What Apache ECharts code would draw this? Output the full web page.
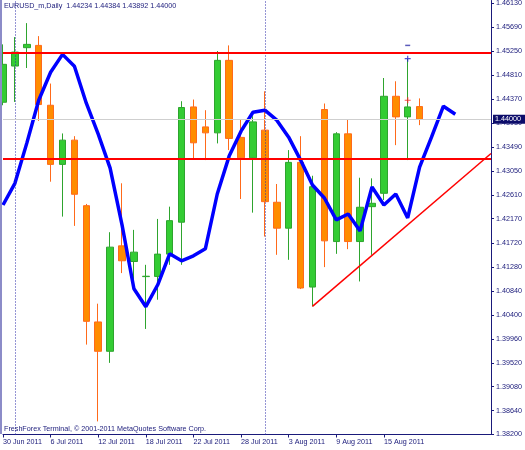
<!DOCTYPE html>
<html><head><meta charset="utf-8">
<script src="https://cdn.jsdelivr.net/npm/echarts@6/dist/echarts.min.js"></script>
<style>html,body{margin:0;padding:0;background:#fff}#c{width:525px;height:450px}</style>
</head><body><div id="c"></div>
<script>
const categories = ['30 Jun 2011','1 Jul 2011','4 Jul 2011','5 Jul 2011','6 Jul 2011','7 Jul 2011','8 Jul 2011','11 Jul 2011',
  '12 Jul 2011','13 Jul 2011','14 Jul 2011','15 Jul 2011','18 Jul 2011','19 Jul 2011','20 Jul 2011','21 Jul 2011',
  '22 Jul 2011','25 Jul 2011','26 Jul 2011','27 Jul 2011','28 Jul 2011','29 Jul 2011','1 Aug 2011','2 Aug 2011',
  '3 Aug 2011','4 Aug 2011','5 Aug 2011','8 Aug 2011','9 Aug 2011','10 Aug 2011','11 Aug 2011','12 Aug 2011',
  '15 Aug 2011','16 Aug 2011','17 Aug 2011','18 Aug 2011','19 Aug 2011','22 Aug 2011','23 Aug 2011','24 Aug 2011',
  '25 Aug 2011','26 Aug 2011'];
const opens  = [1.44313,1.44979,1.45317,1.45359,1.44258,1.43170,1.43616,1.42410,1.40271,1.39731,1.41671,1.41383,
  1.41105,1.41108,1.41519,1.42106,1.44227,1.43860,1.43750,1.45084,1.43666,1.43291,1.43800,1.42473,
  1.41996,1.43207,1.40913,1.44179,1.41750,1.43732,1.41750,1.42392,1.42638,1.44423,1.44044,1.44234];
const highs  = [1.45378,1.45512,1.45769,1.45530,1.44657,1.43739,1.43689,1.42442,1.40607,1.41922,1.42822,1.41965,
  1.41322,1.42166,1.42392,1.44332,1.44363,1.44167,1.45255,1.45359,1.43996,1.44056,1.44515,1.42809,
  1.43433,1.43689,1.42961,1.44290,1.43763,1.43996,1.42924,1.42913,1.44759,1.44699,1.45115,1.44384];
const lows   = [1.44258,1.44319,1.44943,1.43970,1.42851,1.42209,1.42038,1.39854,1.38441,1.39518,1.41170,1.41047,
  1.40142,1.40680,1.41322,1.41322,1.43262,1.43249,1.43556,1.43433,1.42533,1.42282,1.41842,1.41506,
  1.41414,1.40876,1.40557,1.41280,1.41524,1.41610,1.41016,1.41506,1.42515,1.43524,1.43249,1.43892];
const closes = [1.45011,1.45236,1.45378,1.44271,1.43170,1.43616,1.42620,1.40282,1.39731,1.41647,1.41396,1.41555,
  1.41112,1.41519,1.42135,1.44216,1.43567,1.43750,1.45084,1.43647,1.43291,1.43952,1.42484,1.41996,
  1.43207,1.40895,1.42759,1.41763,1.43732,1.41750,1.42381,1.42454,1.44423,1.44044,1.44227,1.44000];
const indicator = [1.42423,1.42822,1.43561,1.44350,1.44864,1.45194,1.44974,1.44295,1.43726,1.43102,1.42056,1.40882,
  1.40552,1.40955,1.41524,1.41396,1.41487,1.41616,1.42625,1.43322,1.43781,1.44130,1.44167,1.43983,
  1.43671,1.43249,1.42790,1.42552,1.42148,1.42258,1.41946,1.42754,1.42423,1.42625,1.42185,1.43121,
  1.43671,1.44240,1.44093];
const levelLines = [1.45218, 1.43273];
const trendX = [26, 41];
const trendY = [1.40557, 1.43370];
const bidPrice = 1.44000;
const separatorDates = ['1 Jul 2011', '1 Aug 2011'];
const yTickLabels = ['1.38200','1.38640','1.39080','1.39520','1.39960','1.40400','1.40840','1.41280','1.41720',
  '1.42170','1.42610','1.43050','1.43490','1.43930','1.44370','1.44810','1.45250','1.45690','1.46130'];
const orderMarkIndex = [34, 34, 34];
const orderMarkPrice = [1.45359, 1.45115, 1.44350];

const NAVY = '#1a1a7a';
const FONT = 'Liberation Sans';
const FS = 7.2;
const last = opens.length - 1;
const title = 'EURUSD_m,Daily  ' + [opens[last], highs[last], lows[last], closes[last]].map(v => v.toFixed(5)).join(' ');

const candleData = opens.map((o, i) => [o, closes[i], lows[i], highs[i]]);
const markStyles = [
  {symbol: 'rect', symbolSize: [5, 1.5], color: '#3333aa'},
  {symbol: 'path://M2,0H3V2H5V3H3V5H2V3H0V2H2Z', symbolSize: 6, color: '#2222cc'},
  {symbol: 'path://M2,0H3V2H5V3H3V5H2V3H0V2H2Z', symbolSize: 6, color: '#ff2020'}
];
const markData = orderMarkIndex.map((x, i) => ({
  value: [x, orderMarkPrice[i]], symbol: markStyles[i].symbol, symbolSize: markStyles[i].symbolSize,
  itemStyle: {color: markStyles[i].color}
}));

const chart = echarts.init(document.getElementById('c'), null, {renderer: 'canvas'});
chart.setOption({
  animation: false,
  backgroundColor: '#ffffff',
  grid: {left: 2.7, right: 30.3, top: 0, bottom: 15.5},
  xAxis: {
    type: 'category', data: categories, boundaryGap: false,
    axisLine: {show: true, lineStyle: {color: NAVY, width: 1}},
    axisTick: {show: true, length: 3, lineStyle: {color: NAVY},
      interval: (i) => i % 4 === 0 && i <= 32},
    axisLabel: {show: true, color: NAVY, fontFamily: FONT, fontSize: FS, align: 'left', margin: 4,
      hideOverlap: false, interval: (i) => i % 4 === 0 && i <= 32},
    splitLine: {show: false}
  },
  yAxis: {
    type: 'value', position: 'right', min: 1.382, max: 1.46185, scale: true,
    axisLine: {show: true, lineStyle: {color: NAVY, width: 1}},
    axisTick: {show: true, length: 3, lineStyle: {color: NAVY}, customValues: yTickLabels.map(Number)},
    axisLabel: {show: true, color: NAVY, fontFamily: FONT, fontSize: FS, margin: 5, align: 'left',
      customValues: yTickLabels.map(Number), formatter: (v) => v.toFixed(5)},
    splitLine: {show: false}
  },
  series: [
    {
      type: 'candlestick', data: candleData, barWidth: 7, clip: true,
      itemStyle: {color: '#33cc33', color0: '#ff8c00', borderColor: '#2ea42e', borderColor0: '#ff6a1a', borderWidth: 1},
      markLine: {
        silent: true, symbol: 'none', animation: false, precision: 5,
        label: {show: false},
        data: [
          {xAxis: separatorDates[0], lineStyle: {color: '#2a2aa8', width: 1, type: [1, 2]}},
          {xAxis: separatorDates[1], lineStyle: {color: '#2a2aa8', width: 1, type: [1, 2]}},
          {yAxis: bidPrice, lineStyle: {color: '#cfcfcf', width: 1, type: 'solid'},
            label: {show: true, position: 'end', distance: 2, formatter: bidPrice.toFixed(5),
              backgroundColor: '#0c0c6a', color: '#ffffff', fontFamily: FONT, fontSize: FS, padding: [1, 6, 1, 2]}},
          {yAxis: levelLines[0], lineStyle: {color: '#ff0000', width: 2, type: 'solid'}},
          {yAxis: levelLines[1], lineStyle: {color: '#ff0000', width: 2, type: 'solid'}}
        ]
      }
    },
    {
      type: 'line', data: indicator, symbol: 'none', clip: true, z: 4,
      lineStyle: {color: '#0000ff', width: 3.5}
    },
    {
      type: 'line', data: trendX.map((x, i) => [x, trendY[i]]), symbol: 'none', clip: true, z: 4,
      lineStyle: {color: '#ff0000', width: 1.5}
    },
    {
      type: 'scatter', data: markData, z: 5
    }
  ],
  graphic: [
    {type: 'line', shape: {x1: 1, y1: 0, x2: 1, y2: 434}, style: {stroke: '#8c8cc8', lineWidth: 2}, z: 10},
    {type: 'text', left: 4, top: 3, style: {text: title, fill: NAVY, font: FS + 'px "' + FONT + '"'}, z: 10},
    {type: 'text', left: 4, top: 426, style: {text: 'FreshForex Terminal, \u00a9 2001-2011 MetaQuotes Software Corp.', fill: NAVY, font: FS + 'px "' + FONT + '"'}, z: 10}
  ]
});
</script></body></html>
